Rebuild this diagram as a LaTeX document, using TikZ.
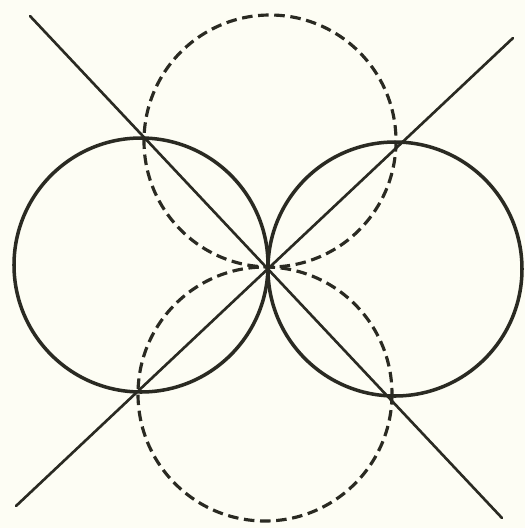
\documentclass[tikz,border=0pt]{standalone}
\usepackage{xcolor}
\definecolor{paperBg}{HTML}{FDFDF4}
\definecolor{inkColor}{HTML}{2A2A22}
\usepackage{tikz}
\tikzset{
  solidring/.style={
    draw=inkColor,
    line width=2pt
  },
  dashring/.style={
    draw=inkColor,
    line width=1.8pt,
    dash pattern=on 6pt off 3.2pt
  },
  crossline/.style={
    draw=inkColor,
    line width=1.5pt,
    line cap=round
  }
}

\begin{document}
\begin{tikzpicture}[x=0.02cm,y=-0.02cm]
  \fill[paperBg] (0,0) rectangle (525,528);
  \useasboundingbox (0,0) rectangle (525,528);
  % ring centres
  \coordinate (west) at (141,265);
  \coordinate (east) at (395,269);
  \coordinate (north) at (270,141);
  \coordinate (south) at (265,394);
  % ends of the two crossing lines
  \coordinate (nw) at (30,16);
  \coordinate (se) at (502,518);
  \coordinate (sw) at (16,506);
  \coordinate (ne) at (513,38);
  \draw[dashring] (north) circle[radius=126];
  \draw[dashring] (south) circle[radius=127];
  \draw[solidring] (west) circle[radius=127];
  \draw[solidring] (east) circle[radius=127];
  \draw[crossline] (nw) -- (se);
  \draw[crossline] (sw) -- (ne);
\end{tikzpicture}
\end{document}
